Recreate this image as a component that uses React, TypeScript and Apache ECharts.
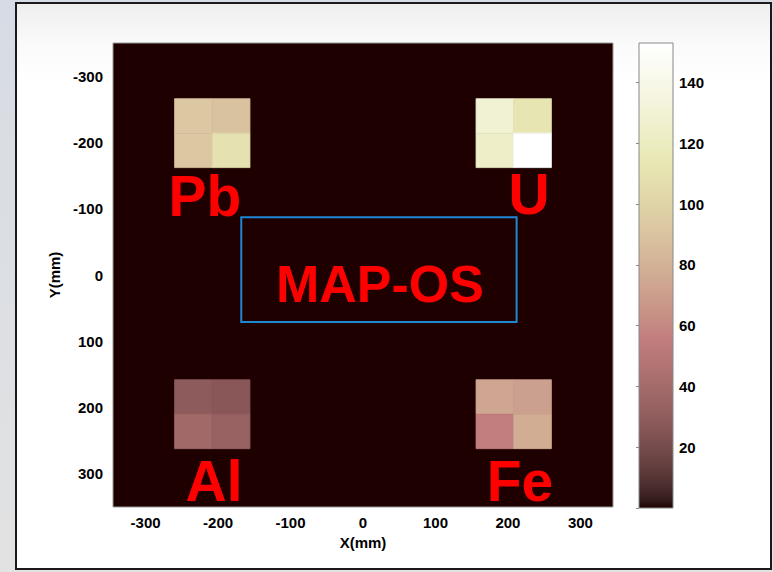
import React, { useEffect, useRef } from "react";
import * as echarts from "echarts";

// ---- data (mm grid, pixel values) ----
const colCenters = [-234, -182, 182, 234]; // X cell centres (mm)
const rowCenters = [-240, -188, 184, 236]; // Y cell centres (mm)
const cellSize = 52; // mm
// rows top->bottom, columns left->right
const row0 = [92, 89, 129, 112]; // Pb top, U top
const row1 = [92, 109, 124, 153]; // Pb bottom, U bottom
const row2 = [29, 27, 74, 71]; // Al top, Fe top
const row3 = [39, 34, 56, 77]; // Al bottom, Fe bottom
const cellRows = [row0, row1, row2, row3];

const xTicks = [-300, -200, -100, 0, 100, 200, 300];
const yTicks = [-300, -200, -100, 0, 100, 200, 300];
const cbTicks = [20, 40, 60, 80, 100, 120, 140];
const vMin = 0;
const vMax = 153;

const labels = [
  { text: "Pb", x: 205, y: 196 },
  { text: "U", x: 529, y: 194 },
  { text: "Al", x: 214, y: 481 },
  { text: "Fe", x: 520, y: 481 },
];

// MATLAB "pink" colormap
function pink(t: number): string {
  const i = t * 63;
  const clamp = (v: number) => Math.max(0, Math.min(1, v));
  const r = clamp((i + 1) / 24);
  const g = clamp((i + 1 - 24) / 24);
  const b = clamp((i + 1 - 48) / 16);
  const R = Math.sqrt((2 * t + r) / 3);
  const G = Math.sqrt((2 * t + g) / 3);
  const B = Math.sqrt((2 * t + b) / 3);
  return `rgb(${Math.round(R * 255)},${Math.round(G * 255)},${Math.round(B * 255)})`;
}
const pinkColors: string[] = [];
for (let k = 0; k < 64; k++) pinkColors.push(pink(k / 63));

const FONT = "Liberation Sans, Arial, sans-serif";

export default function App() {
  const ref = useRef<HTMLDivElement>(null);
  useEffect(() => {
    if (!ref.current) return;
    const chart = echarts.init(ref.current, undefined, { renderer: "svg" });

    const cells: number[][] = [];
    cellRows.forEach((row, ri) =>
      row.forEach((v, ci) => cells.push([colCenters[ci], rowCenters[ri], v]))
    );

    const stops = pinkColors.map((c, k) => ({ offset: k / 63, color: c }));

    const tickLabel = {
      color: "#000",
      fontSize: 15,
      fontWeight: "bold",
      fontFamily: FONT,
    };

    const option: any = {
      animation: false,
      graphic: [
        {
          type: "rect",
          z: -20,
          silent: true,
          shape: { x: 0, y: 0, width: 773, height: 572 },
          style: {
            fill: new echarts.graphic.LinearGradient(0, 0, 0, 1, [
              { offset: 0, color: "#d6dce5" },
              { offset: 1, color: "#e2e2e2" },
            ]),
          },
        },
        {
          type: "rect",
          z: -10,
          silent: true,
          shape: { x: 16, y: 3, width: 755, height: 566 },
          style: {
            fill: new echarts.graphic.LinearGradient(0, 0, 0, 1, [
              { offset: 0, color: "#eeeeee" },
              { offset: 0.07, color: "#fafafa" },
              { offset: 0.14, color: "#ffffff" },
              { offset: 1, color: "#ffffff" },
            ]),
            stroke: "#1a1a1a",
            lineWidth: 2,
          },
        },
        ...labels.map((l) => ({
          type: "text",
          z: 100,
          x: l.x,
          y: l.y,
          style: {
            text: l.text,
            fill: "#ff0000",
            fontSize: 57,
            fontWeight: "bold",
            fontFamily: FONT,
            align: "center",
            verticalAlign: "middle",
          },
        })),
        {
          type: "text",
          z: 100,
          x: 380,
          y: 284,
          style: {
            text: "MAP-OS",
            fill: "#ff0000",
            fontSize: 52,
            fontWeight: "bold",
            fontFamily: FONT,
            align: "center",
            verticalAlign: "middle",
          },
        },
      ],
      grid: [
        {
          left: 113,
          top: 43,
          width: 500,
          height: 464,
          show: true,
          backgroundColor: pinkColors[0],
          borderColor: "#999999",
          borderWidth: 1,
        },
        {
          left: 639,
          top: 43,
          width: 34,
          height: 465,
          show: false,
        },
      ],
      visualMap: {
        type: "continuous",
        show: false,
        min: vMin,
        max: vMax,
        dimension: 2,
        seriesIndex: 0,
        inRange: { color: pinkColors },
      },
      xAxis: [
        {
          gridIndex: 0,
          type: "value",
          min: -345,
          max: 345,
          splitNumber: 7,
          axisLine: { show: false },
          axisTick: { show: false },
          splitLine: { show: false },
          axisLabel: {
            ...tickLabel,
            margin: 8,
            formatter: (v: number) => (xTicks.includes(v) ? String(v) : ""),
          },
          name: "X(mm)",
          nameLocation: "middle",
          nameGap: 24,
          nameTextStyle: { ...tickLabel },
        },
        {
          gridIndex: 1,
          type: "value",
          min: 0,
          max: 1,
          show: false,
        },
      ],
      yAxis: [
        {
          gridIndex: 0,
          type: "value",
          inverse: true,
          min: -350,
          max: 350,
          interval: 50,
          axisLine: { show: false },
          axisTick: { show: false },
          splitLine: { show: false },
          axisLabel: {
            ...tickLabel,
            margin: 10,
            formatter: (v: number) => (yTicks.includes(v) ? String(v) : ""),
          },
          name: "Y(mm)",
          nameLocation: "middle",
          nameGap: 50,
          nameTextStyle: { ...tickLabel },
        },
        {
          gridIndex: 1,
          type: "value",
          position: "right",
          min: vMin,
          max: vMax,
          interval: 20,
          axisLine: { show: false },
          axisTick: { show: true, inside: true, length: 3, lineStyle: { color: "#888" } },
          splitLine: { show: false },
          axisLabel: {
            ...tickLabel,
            margin: 6,
            showMaxLabel: false,
            formatter: (v: number) => (cbTicks.includes(v) ? String(v) : ""),
          },
        },
      ],
      series: [
        {
          type: "custom",
          xAxisIndex: 0,
          yAxisIndex: 0,
          data: cells,
          renderItem: (params: any, api: any) => {
            const x = api.value(0);
            const y = api.value(1);
            const h = cellSize / 2;
            const p1 = api.coord([x - h, y - h]);
            const p2 = api.coord([x + h, y + h]);
            const c = api.visual("color");
            return {
              type: "rect",
              shape: {
                x: Math.min(p1[0], p2[0]),
                y: Math.min(p1[1], p2[1]),
                width: Math.abs(p2[0] - p1[0]),
                height: Math.abs(p2[1] - p1[1]),
              },
              style: { fill: c, stroke: c, lineWidth: 0.8 },
            };
          },
        },
        {
          type: "line",
          xAxisIndex: 0,
          yAxisIndex: 0,
          data: [],
          markArea: {
            silent: true,
            itemStyle: { color: "rgba(0,0,0,0)", borderColor: "#1f86d6", borderWidth: 2 },
            data: [[{ xAxis: -168, yAxis: -87 }, { xAxis: 212, yAxis: 71 }]],
          },
        },
        {
          type: "custom",
          xAxisIndex: 1,
          yAxisIndex: 1,
          data: [[0, vMin, vMax]],
          renderItem: (params: any, api: any) => {
            const p1 = api.coord([0, api.value(2)]);
            const p2 = api.coord([1, api.value(1)]);
            return {
              type: "rect",
              shape: { x: p1[0], y: p1[1], width: p2[0] - p1[0], height: p2[1] - p1[1] },
              style: {
                fill: new echarts.graphic.LinearGradient(0, 1, 0, 0, stops),
                stroke: "#888",
                lineWidth: 1,
              },
            };
          },
        },
      ],
    };
    chart.setOption(option);
    return () => chart.dispose();
  }, []);
  return (
    <div
      ref={ref}
      style={{ position: "absolute", left: 0, top: 0, width: 773, height: 572 }}
    />
  );
}
